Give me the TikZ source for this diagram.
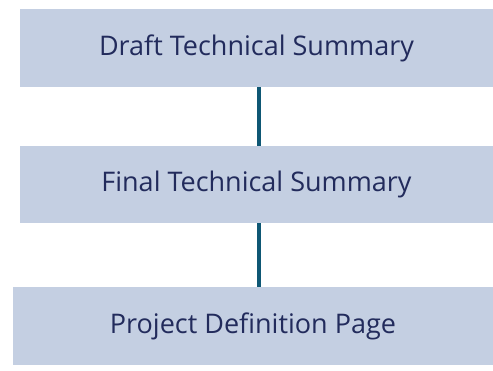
\documentclass[tikz,border=0pt]{standalone}
\usepackage{fontspec}
\setmainfont{Open Sans}
\definecolor{boxfill}{HTML}{C4CFE2}
\definecolor{boxtext}{HTML}{222B5C}
\definecolor{linkcol}{HTML}{0E5774}
\begin{document}
\begin{tikzpicture}[x=1pt,y=1pt,
  stepbox/.style={fill=boxfill, draw=none, text=boxtext, minimum height=78pt,
    inner sep=0pt, font=\fontsize{27}{32}\selectfont},
  link/.style={draw=linkcol, line width=4pt}]
\useasboundingbox (0,0) rectangle (493,371);
\node[stepbox, minimum width=473pt] (a) at (256.5,323) {Draft Technical Summary};
\node[stepbox, minimum width=473pt, minimum height=77pt] (b) at (256.5,186.5) {Final Technical Summary};
\node[stepbox, minimum width=480pt] (c) at (253,45) {Project Definition Page};
\draw[link] (a.south -| 259,0) -- (b.north -| 259,0);
\draw[link] (b.south -| 259,0) -- (c.north -| 259,0);
\end{tikzpicture}
\end{document}
